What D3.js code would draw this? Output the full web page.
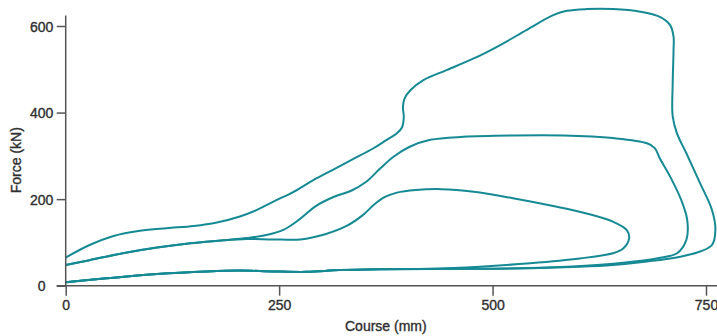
<!DOCTYPE html>
<html>
<head>
<meta charset="utf-8">
<script src="https://cdn.jsdelivr.net/npm/d3@7/dist/d3.min.js"></script>
<style>
  html, body { margin: 0; padding: 0; background: #fff; }
  svg { display: block; }
  text { font-family: "Liberation Sans", Arial, sans-serif; fill: #2e2e2e; stroke: #2e2e2e; stroke-width: 0.35px; }
</style>
</head>
<body>
<svg id="chart" width="717" height="336"></svg>
<script>
// Axis ticks and titles
const xTicks = [0, 250, 500, 750];
const yTicks = [0, 200, 400, 600];
const xTitle = "Course (mm)";
const yTitle = "Force (kN)";

// Common unloading return shared by every cycle: [course mm, force kN]
const returnPath = [[368, 38], [321, 36], [282, 32], [243, 33], [204, 35], [165, 33], [107, 27], [48, 17], [0, 8]];

// Largest cycle (peak ~640 kN)
const cycleLarge = [
  [0, 65], [28, 94], [56, 115], [87, 127], [118, 133], [150, 138], [177, 146], [204, 160],
  [224, 175], [245, 196], [267, 217], [290, 244], [314, 269], [337, 293], [360, 317],
  [376, 337], [388, 352], [394, 366], [396, 390], [395, 413], [397, 433], [404, 452],
  [419, 475], [446, 498], [478, 525], [509, 556], [540, 591], [571, 625], [587, 635],
  [610, 639], [641, 639], [673, 633], [696, 621], [708, 602], [712, 575], [712, 545],
  [711, 468], [711, 391], [716, 352], [727, 306], [743, 237], [757, 175], [761, 129],
  [757, 94], [743, 79], [720, 67], [681, 56], [641, 48], [602, 44], [524, 40], [446, 39]
];

// Medium cycle (plateau ~347 kN)
const cycleMedium = [
  [0, 48], [28, 59], [67, 75], [107, 88], [146, 98], [185, 105], [212, 110], [235, 117],
  [255, 129], [273, 152], [293, 184], [315, 206], [335, 220], [352, 240], [368, 270],
  [384, 298], [403, 321], [427, 337], [466, 344], [524, 347], [583, 347], [641, 341],
  [681, 329], [690, 318], [696, 294], [708, 252], [721, 198], [728, 152], [727, 106],
  [716, 75], [692, 63], [661, 55], [622, 48], [563, 42], [485, 39]
];

// Small cycle (peak ~223 kN)
const cycleSmall = [
  [0, 48], [28, 59], [67, 75], [107, 88], [146, 98], [185, 105], [212, 108], [243, 107],
  [275, 107], [304, 119], [329, 138], [348, 163], [361, 187], [374, 205], [388, 215],
  [410, 221], [440, 223], [478, 217], [524, 202], [571, 184], [610, 167], [641, 148],
  [657, 129], [660, 110], [653, 86], [641, 75], [602, 63], [544, 52], [485, 44], [427, 39]
];

// Extent of the drawn axis lines, in data units
const xAxisEnd = 763;
const yAxisEnd = 624;

const svg = d3.select("#chart");

const x = d3.scaleLinear().domain([0, 750]).range([65.7, 706]);
const y = d3.scaleLinear().domain([0, 600]).range([285.7, 26]);

const axisColor = "#555";
const curveColor = "#158a94";

// Cycles
const line = d3.line()
  .x(d => x(d[0]))
  .y(d => y(d[1]))
  .curve(d3.curveCatmullRom.alpha(0.5));

[cycleSmall, cycleMedium, cycleLarge].forEach(c => {
  svg.append("path")
    .datum(c.concat(returnPath))
    .attr("d", line)
    .attr("fill", "none")
    .attr("stroke", curveColor)
    .attr("stroke-width", 2)
    .attr("stroke-linejoin", "round");
});

// Y axis
const yAxis = svg.append("g")
  .attr("transform", `translate(${x(0)},0)`)
  .call(d3.axisLeft(y).tickValues(yTicks).tickSize(9).tickFormat(d3.format("d")));
yAxis.select(".domain").remove();
yAxis.selectAll(".tick line").attr("stroke", axisColor).attr("stroke-width", 1.5);
yAxis.selectAll(".tick text")
  .attr("x", -24).attr("dy", "0.36em")
  .attr("text-anchor", "middle")
  .style("font-family", "Liberation Sans, Arial, sans-serif")
  .style("font-size", "14px");

// X axis
const xAxis = svg.append("g")
  .attr("transform", `translate(0,${y(0)})`)
  .call(d3.axisBottom(x).tickValues(xTicks).tickSize(10).tickPadding(4).tickFormat(d3.format("d")));
xAxis.select(".domain").remove();
xAxis.selectAll(".tick line").attr("stroke", axisColor).attr("stroke-width", 1.5);
xAxis.selectAll(".tick text")
  .style("font-family", "Liberation Sans, Arial, sans-serif")
  .style("font-size", "14px");

// Axis lines
svg.append("line")
  .attr("x1", x(0)).attr("x2", x(0))
  .attr("y1", y(yAxisEnd)).attr("y2", y(0))
  .attr("stroke", axisColor).attr("stroke-width", 1.5);
svg.append("line")
  .attr("x1", x(0) - 9).attr("x2", x(xAxisEnd))
  .attr("y1", y(0)).attr("y2", y(0))
  .attr("stroke", axisColor).attr("stroke-width", 1.5);

// Titles
svg.append("text")
  .attr("x", x(375)).attr("y", 330.5)
  .attr("text-anchor", "middle")
  .style("font-size", "14px")
  .text(xTitle);
svg.append("text")
  .attr("transform", `translate(20.5,${y(290)}) rotate(-90)`)
  .attr("text-anchor", "middle")
  .style("font-size", "14px")
  .text(yTitle);
</script>
</body>
</html>
